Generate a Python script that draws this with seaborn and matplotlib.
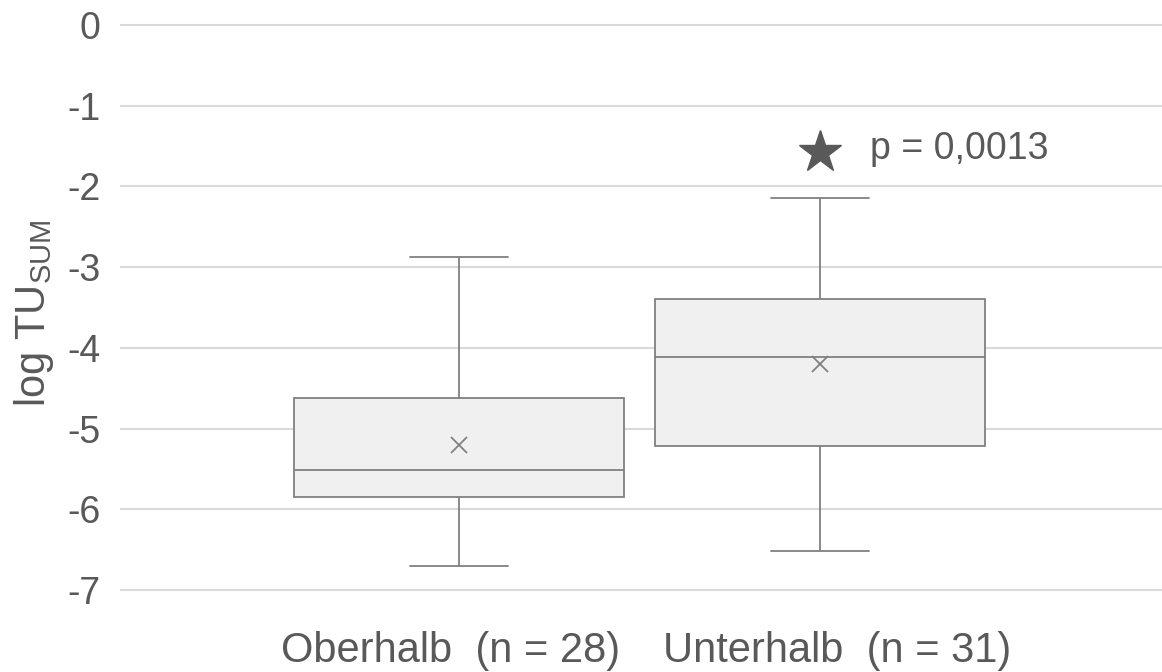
import numpy as np
import pandas as pd
import matplotlib
matplotlib.use("Agg")
import matplotlib.pyplot as plt
import seaborn as sns

# ---- data ----
groups = ["Oberhalb  (n = 28)", "Unterhalb  (n = 31)"]
whisker_low = [-6.70, -6.52]
q1 = [-5.85, -5.22]
median = [-5.51, -4.11]
q3 = [-4.62, -3.40]
whisker_high = [-2.875, -2.14]
means = [-5.20, -4.20]
star_y = -1.57
p_label = "p = 0,0013"
yticks = [0, -1, -2, -3, -4, -5, -6, -7]

rows = []
for g, a, b, c, d, e in zip(groups, whisker_low, q1, median, q3, whisker_high):
    for v in (a, b, c, d, e):
        rows.append({"group": g, "value": v})
df = pd.DataFrame(rows)

sns.set_theme(style="white")
plt.rcParams["font.family"] = ["Liberation Sans", "DejaVu Sans"]
plt.rcParams["mathtext.fontset"] = "custom"
plt.rcParams["mathtext.rm"] = "Liberation Sans"

text_color = "#595959"
line_color = "#808080"

fig = plt.figure(figsize=(11.62, 6.72), dpi=100)
ax = fig.add_axes([0.1033, 0.074, 0.8967, 0.919])

for v in yticks:
    ax.axhline(v, color="#d9d9d9", lw=1.5, zorder=0)

sns.boxplot(data=df, x="group", y="value", order=groups, whis=(0, 100),
            width=0.914, color="#f0f0f0", linecolor=line_color, linewidth=1.3,
            showfliers=False, capwidths=0.27, ax=ax, zorder=2)

ax.plot([0, 1], means, linestyle="none", marker="x", markersize=12,
        markeredgewidth=1.3, color=line_color, zorder=3)

ax.plot([1], [star_y], linestyle="none", marker="*", markersize=32,
        color=text_color, zorder=3)
ax.text(1.138, star_y + 0.03, p_label, fontsize=27, color=text_color,
        va="center", ha="left")

ax.set_xlim(-0.939, 1.947)
ax.set_ylim(-7.4, 0.25)
ax.set_yticks(yticks)
ax.set_yticklabels([str(v) for v in yticks])
ax.set_xticks([-0.024, 1.046])
ax.set_xticklabels(groups)
ax.tick_params(axis="y", length=0, pad=14, labelsize=27, labelcolor=text_color)
ax.tick_params(axis="x", length=0, pad=6, labelsize=30, labelcolor=text_color)
ax.set_xlabel("")
ax.set_ylabel(r"log TU$_{\mathregular{SUM}}$", fontsize=30, color=text_color,
              labelpad=8)
for s in ax.spines.values():
    s.set_visible(False)
ax.grid(False)

fig.savefig("out.png", dpi=100)
